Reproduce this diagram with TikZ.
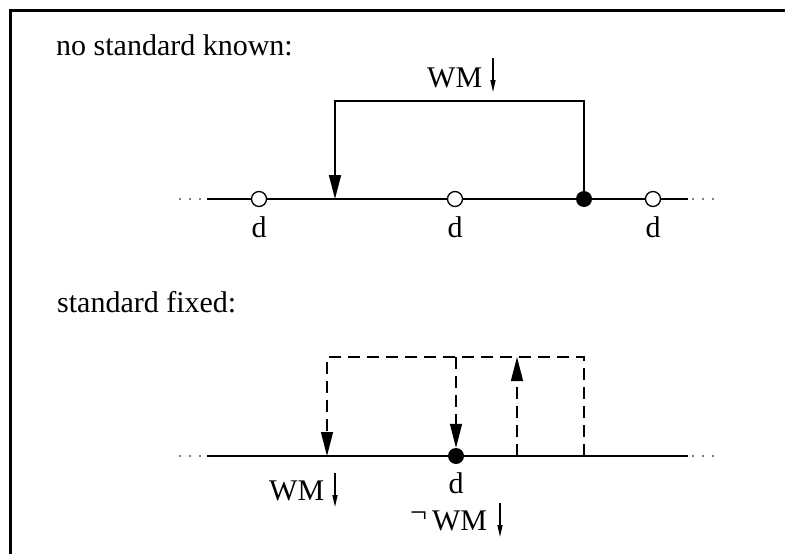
\documentclass[tikz,border=0pt]{standalone}
\usepackage{fontspec}
\setmainfont{Liberation Serif}
\usetikzlibrary{arrows.meta}
\begin{document}
\begin{tikzpicture}[x=1pt,y=-1pt,
  lbl/.style={inner sep=0pt, font=\fontsize{30}{36}\selectfont},
  axisline/.style={line width=1.6pt},
  dotline/.style={line width=1.9pt, dash pattern=on 0pt off 10pt, line cap=round},
  opencirc/.style={circle, draw, fill=white, line width=1.3pt, minimum size=15pt, inner sep=0pt},
  fullcirc/.style={circle, fill=black, minimum size=16pt, inner sep=0pt},
  bigtip/.style={-{Triangle[length=24pt,width=12pt]}},
  conn/.style={line width=1.6pt, bigtip},
  dashconn/.style={line width=1.4pt, dash pattern=on 12pt off 7pt, bigtip},
  smallarr/.style={line width=1.3pt, -{Triangle[length=12pt,width=5pt]}}
]
\useasboundingbox (0,0) rectangle (785,554);
% frame
\draw[line width=3pt] (10,570) -- (10,10) -- (800,10);

% ---------- top part ----------
\node[lbl, anchor=base west] (t1) at (56,55) {no standard known:};
\coordinate (a1) at (207,199);
\coordinate (b1) at (688,199);
\coordinate (d1) at (180,199);
\coordinate (e1) at (713,199);
\draw[axisline] (a1) -- (b1);
\draw[dotline] (d1) -- (a1);
\draw[dotline] (e1) -- (b1);
\node[opencirc] (c1) at (259,199) {};
\node[opencirc] (c2) at (455,199) {};
\node[opencirc] (c3) at (653,199) {};
\node[fullcirc] (f1) at (584,199) {};
\node[lbl, anchor=base] (dl1) at (259,237) {d};
\node[lbl, anchor=base] (dl2) at (455,237) {d};
\node[lbl, anchor=base] (dl3) at (653,237) {d};
\coordinate (k1) at (335,101);
\coordinate (tip1) at (335,199);
\draw[conn] (f1.north) |- (k1) -- (tip1);
\node[lbl, anchor=base west] (wm1) at (427,87) {WM};
\coordinate (w1s) at (493,58);
\coordinate (w1e) at (493,92);
\draw[smallarr] (w1s) -- (w1e);

% ---------- bottom part ----------
\node[lbl, anchor=base west] (t2) at (57,312) {standard fixed:};
\coordinate (a2) at (207,456);
\coordinate (b2) at (688,456);
\coordinate (d2) at (180,456);
\coordinate (e2) at (713,456);
\draw[axisline] (a2) -- (b2);
\draw[dotline] (d2) -- (a2);
\draw[dotline] (e2) -- (b2);
\node[fullcirc] (f2) at (456,456) {};
\coordinate (g1) at (327,456);
\coordinate (g2) at (327,357);
\coordinate (g3) at (584,357);
\coordinate (g4) at (584,456);
\coordinate (h1) at (456,357);
\coordinate (u1) at (517,456);
\coordinate (u2) at (517,357);
\draw[dashconn] (g4) -- (g3) -- (g2) -- (g1);
\draw[dashconn] (h1) -- (f2.north);
\draw[dashconn] (u1) -- (u2);

\node[lbl, anchor=base] (dl4) at (456,493) {d};
\node[lbl, anchor=base west] (wm2) at (269,500) {WM};
\coordinate (w2s) at (335,473);
\coordinate (w2e) at (335,507);
\draw[smallarr] (w2s) -- (w2e);
\node[lbl, anchor=base west] (wm3) at (410,530) {\raisebox{8pt}{¬}\hspace{5pt}WM};
\coordinate (w3s) at (500,503);
\coordinate (w3e) at (500,537);
\draw[smallarr] (w3s) -- (w3e);
\end{tikzpicture}
\end{document}
